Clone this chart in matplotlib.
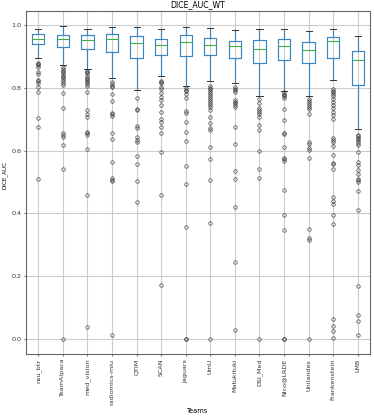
import matplotlib
matplotlib.use("Agg")
import matplotlib.pyplot as plt

teams = ["nsu_btr", "TeamAlpaca", "med_vision", "radiomics-miu", "QTIM", "SCAN",
         "Jaguars", "UmU", "Matukituki", "DSI_Med", "Nico@LRDE", "Unilandes",
         "Frankenstein", "LMB"]

medians = [0.957, 0.956, 0.952, 0.955, 0.944, 0.936, 0.948, 0.936, 0.933, 0.926, 0.934, 0.920, 0.949, 0.888]
q1 = [0.939, 0.932, 0.924, 0.916, 0.896, 0.904, 0.902, 0.905, 0.895, 0.880, 0.890, 0.880, 0.897, 0.811]
q3 = [0.972, 0.969, 0.968, 0.972, 0.965, 0.957, 0.970, 0.960, 0.949, 0.952, 0.957, 0.948, 0.964, 0.919]
whisker_low = [0.895, 0.875, 0.861, 0.832, 0.793, 0.837, 0.807, 0.821, 0.815, 0.773, 0.792, 0.773, 0.826, 0.668]
whisker_high = [0.987, 0.997, 0.990, 0.994, 0.994, 0.989, 0.994, 0.991, 0.984, 0.987, 0.990, 0.983, 0.987, 0.967]

fliers_nsu_btr = [0.880, 0.876, 0.872, 0.868, 0.852, 0.844, 0.827, 0.821, 0.815, 0.804, 0.787, 0.703, 0.676, 0.511]
fliers_teamalpaca = [0.866, 0.860, 0.855, 0.850, 0.845, 0.840, 0.835, 0.828, 0.822, 0.815, 0.809, 0.783,
                     0.737, 0.655, 0.650, 0.644, 0.617, 0.543, 0.0]
fliers_med_vision = [0.855, 0.851, 0.847, 0.840, 0.832, 0.828, 0.824, 0.818, 0.812, 0.806, 0.788, 0.729,
                     0.717, 0.706, 0.660, 0.655, 0.650, 0.607, 0.458, 0.037]
fliers_radiomics_miu = [0.818, 0.813, 0.808, 0.802, 0.781, 0.758, 0.721, 0.717, 0.710, 0.657, 0.637,
                        0.564, 0.513, 0.508, 0.503, 0.013]
fliers_qtim = [0.767, 0.733, 0.730, 0.679, 0.674, 0.644, 0.634, 0.628, 0.582, 0.559, 0.503, 0.436]
fliers_scan = [0.823, 0.819, 0.815, 0.802, 0.796, 0.785, 0.772, 0.761, 0.745, 0.724, 0.700, 0.693,
               0.676, 0.657, 0.596, 0.458, 0.170]
fliers_jaguars = [0.799, 0.795, 0.791, 0.781, 0.768, 0.727, 0.719, 0.691, 0.661, 0.631, 0.550, 0.495,
                  0.356, 0.0, 0.0]
fliers_umu = [0.807, 0.801, 0.796, 0.790, 0.783, 0.777, 0.771, 0.765, 0.759, 0.752, 0.745, 0.739, 0.729,
              0.706, 0.689, 0.672, 0.665, 0.612, 0.572, 0.506, 0.368, 0.0]
fliers_matukituki = [0.802, 0.798, 0.794, 0.788, 0.761, 0.756, 0.751, 0.745, 0.738, 0.676, 0.620, 0.534,
                     0.510, 0.421, 0.244, 0.029]
fliers_dsi_med = [0.764, 0.751, 0.735, 0.729, 0.723, 0.716, 0.708, 0.681, 0.665, 0.599, 0.543, 0.514, 0.0]
fliers_nico_lrde = [0.786, 0.782, 0.778, 0.774, 0.769, 0.732, 0.697, 0.655, 0.653, 0.612, 0.578, 0.572,
                    0.566, 0.474, 0.395, 0.346, 0.0, 0.0]
fliers_unilandes = [0.765, 0.759, 0.752, 0.746, 0.740, 0.733, 0.716, 0.628, 0.621, 0.610, 0.603, 0.578,
                    0.351, 0.321, 0.316, 0.0]
fliers_frankenstein = [0.796, 0.792, 0.788, 0.782, 0.773, 0.765, 0.755, 0.746, 0.735, 0.724, 0.713, 0.702,
                       0.641, 0.634, 0.627, 0.614, 0.586, 0.562, 0.558, 0.540, 0.452, 0.438, 0.431,
                       0.394, 0.366, 0.064, 0.042, 0.023, 0.002]
fliers_lmb = [0.650, 0.646, 0.642, 0.636, 0.630, 0.625, 0.618, 0.596, 0.564, 0.554, 0.538, 0.527,
              0.511, 0.506, 0.500, 0.472, 0.411, 0.167, 0.074, 0.058, 0.011]

fliers = [fliers_nsu_btr, fliers_teamalpaca, fliers_med_vision, fliers_radiomics_miu, fliers_qtim,
          fliers_scan, fliers_jaguars, fliers_umu, fliers_matukituki, fliers_dsi_med,
          fliers_nico_lrde, fliers_unilandes, fliers_frankenstein, fliers_lmb]

stats = []
for i, t in enumerate(teams):
    stats.append(dict(label=t, med=medians[i], q1=q1[i], q3=q3[i],
                      whislo=whisker_low[i], whishi=whisker_high[i], fliers=fliers[i]))

plt.rcParams['font.family'] = ['DejaVu Sans']
fig = plt.figure(figsize=(3.74, 4.16), dpi=100)
ax = fig.add_axes([26 / 374, 1 - 354.3 / 416, 344 / 374, 343.6 / 416])

blue = '#3b86c0'
ax.bxp(stats, widths=0.5, patch_artist=False,
       boxprops=dict(color=blue, linewidth=0.85),
       whiskerprops=dict(color=blue, linewidth=0.85),
       capprops=dict(color='#333333', linewidth=0.7),
       medianprops=dict(color='#3cb043', linewidth=0.8),
       flierprops=dict(marker='o', markersize=2.5, markerfacecolor='none',
                       markeredgecolor='#333333', markeredgewidth=0.45))

ax.grid(True, color='#cccccc', linewidth=0.8)
ax.set_axisbelow(True)
ax.set_xticks(range(1, len(teams) + 1))
ax.set_xticklabels(teams, rotation=90, fontsize=4.6)
ax.tick_params(axis='y', labelsize=4.6, length=1.7, width=0.5, pad=1.5, colors='#333333')
ax.tick_params(axis='x', length=1.7, width=0.5, pad=1.5, colors='#333333')
ax.set_yticks([0.0, 0.2, 0.4, 0.6, 0.8, 1.0])
ax.set_title("DICE_AUC_WT", fontsize=5.6, pad=2.5)
ax.set_xlabel("Teams", fontsize=4.8, labelpad=2)
ax.set_ylabel("DICE_AUC", fontsize=4.1)
ax.yaxis.set_label_coords(-0.055, 0.522)
for s in ax.spines.values():
    s.set_color('#666666')
    s.set_linewidth(0.8)

fig.savefig("out.png", dpi=100)
